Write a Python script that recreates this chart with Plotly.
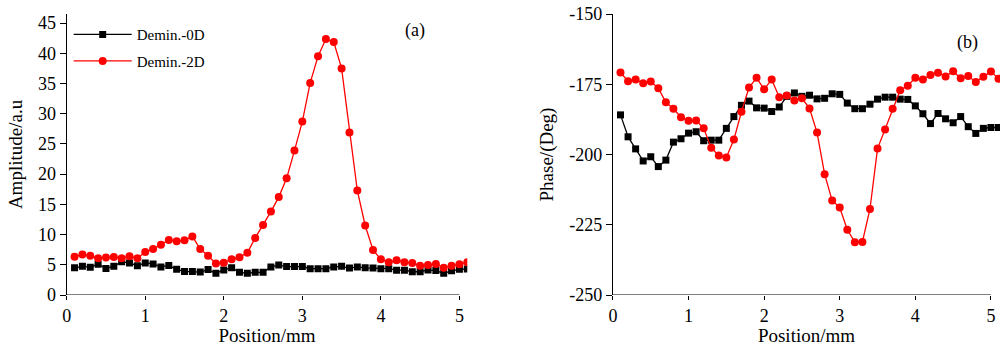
import plotly.graph_objects as go

position = [round(0.1 * i, 1) for i in range(1, 52)]  # 0.1 ... 5.1

amp_0d = [4.5, 4.75, 4.6, 5.1, 4.4, 4.75, 5.5, 5.3, 4.85, 5.3,
          5.15, 4.65, 4.9, 4.25, 3.9, 3.9, 3.8, 4.2, 3.6, 4.15,
          4.5, 3.75, 3.6, 3.75, 3.75, 4.65, 4.95, 4.7, 4.7, 4.7,
          4.35, 4.35, 4.35, 4.65, 4.75, 4.45, 4.65, 4.5, 4.45, 4.35,
          4.35, 4.1, 4.1, 3.85, 3.85, 4.15, 4.05, 3.6, 4.0, 4.25, 4.3]
amp_2d = [6.35, 6.7, 6.5, 6.1, 6.2, 6.3, 6.1, 6.4, 6.1, 7.1,
          7.6, 8.3, 9.1, 8.9, 9.05, 9.7, 7.6, 6.5, 5.2, 5.35,
          5.9, 6.25, 7.0, 9.45, 11.6, 13.8, 16.2, 19.3, 23.9, 28.7,
          35.1, 39.5, 42.35, 41.85, 37.5, 26.9, 17.3, 11.5, 7.45, 5.9,
          5.4, 5.75, 5.4, 5.3, 4.85, 4.95, 5.15, 4.5, 4.85, 5.1, 5.4]

phase_0d = [-185.9, -193.7, -198.0, -202.3, -200.8, -204.3, -202.0, -195.6, -194.4, -192.4,
            -191.9, -195.1, -194.9, -194.9, -190.7, -186.5, -182.5, -181.0, -183.4, -183.5,
            -184.7, -183.1, -179.3, -178.1, -179.3, -178.9, -180.2, -180.0, -178.4, -178.6,
            -181.7, -183.7, -183.7, -182.1, -180.3, -179.6, -179.6, -180.3, -180.4, -182.7,
            -185.5, -189.0, -185.4, -187.3, -188.7, -186.5, -190.1, -192.5, -190.7, -190.4, -190.4]
phase_2d = [-170.8, -173.9, -173.3, -174.6, -174.0, -176.4, -181.4, -183.7, -186.7, -188.0,
            -187.9, -190.7, -197.6, -200.4, -201.1, -194.7, -184.8, -176.2, -172.7, -176.8,
            -173.3, -179.6, -179.0, -180.8, -180.0, -183.6, -192.2, -207.0, -216.4, -218.9,
            -226.8, -231.2, -231.1, -219.4, -197.9, -191.1, -183.7, -177.1, -175.5, -172.7,
            -173.3, -171.7, -170.9, -172.2, -170.4, -172.9, -172.1, -174.2, -172.3, -170.5, -173.0]

x_ticks = [0, 1, 2, 3, 4, 5]
amp_ticks = [0, 5, 10, 15, 20, 25, 30, 35, 40, 45]
phase_ticks = [-250, -225, -200, -175, -150]
phase_ticktext = ["-250", "-225", "-200", "-175", "-150"]

FONT = "Liberation Serif"
BLACK = "#000000"
RED = "#ff0000"

fig = go.Figure()

fig.add_trace(go.Scatter(x=position, y=amp_0d, name="Demin.-0D", mode="lines+markers",
                         line=dict(color=BLACK, width=1.3),
                         marker=dict(symbol="square", size=7, color=BLACK),
                         xaxis="x", yaxis="y", legendgroup="a"))
fig.add_trace(go.Scatter(x=position, y=amp_2d, name="Demin.-2D", mode="lines+markers",
                         line=dict(color=RED, width=1.3),
                         marker=dict(symbol="circle", size=8, color=RED),
                         xaxis="x", yaxis="y", legendgroup="b"))
fig.add_trace(go.Scatter(x=position, y=phase_0d, name="Demin.-0D", mode="lines+markers",
                         line=dict(color=BLACK, width=1.3),
                         marker=dict(symbol="square", size=7, color=BLACK),
                         xaxis="x2", yaxis="y2", showlegend=False, legendgroup="a"))
fig.add_trace(go.Scatter(x=position, y=phase_2d, name="Demin.-2D", mode="lines+markers",
                         line=dict(color=RED, width=1.3),
                         marker=dict(symbol="circle", size=8, color=RED),
                         xaxis="x2", yaxis="y2", showlegend=False, legendgroup="b"))

axis_common = dict(ticks="outside", tickwidth=1.2, tickcolor=BLACK,
                   showgrid=False, zeroline=False,
                   tickfont=dict(family=FONT, size=18, color=BLACK),
                   title_font=dict(family=FONT, size=19, color=BLACK))

fig.update_layout(
    width=1000, height=346,
    margin=dict(l=0, r=0, t=14, b=51),
    paper_bgcolor="white", plot_bgcolor="white",
    showlegend=True,
    legend=dict(x=0.064, y=0.985, xref="paper", yref="paper", xanchor="left", yanchor="top",
                font=dict(family=FONT, size=15, color=BLACK),
                bgcolor="rgba(0,0,0,0)", tracegroupgap=4, itemwidth=58),
    xaxis=dict(domain=[0.062, 0.4646], range=[0, 5.1], tickvals=x_ticks,
               showline=False, anchor="y", ticklen=4,
               title=dict(text="Position/mm", standoff=2), **axis_common),
    yaxis=dict(domain=[0, 1], range=[0, 46.5], tickvals=amp_ticks,
               showline=True, linecolor=BLACK, linewidth=1.2, anchor="x", ticklen=6,
               title=dict(text="Amplitude/a.u", standoff=10), **axis_common),
    xaxis2=dict(domain=[0.611, 1.0], range=[0, 5.12], tickvals=x_ticks,
                showline=False, anchor="y2", ticklen=4,
                title=dict(text="Position/mm", standoff=2), **axis_common),
    yaxis2=dict(domain=[0, 1], range=[-250, -150], tickvals=phase_ticks,
                ticktext=phase_ticktext,
                showline=True, linecolor=BLACK, linewidth=1.2, anchor="x2", ticklen=6,
                title=dict(text="Phase/(Deg)", standoff=10), **axis_common),
    shapes=[
        dict(type="line", xref="x", yref="y", x0=0, x1=5, y0=0, y1=0,
             line=dict(color=BLACK, width=1.2)),
        dict(type="line", xref="x2", yref="y2", x0=0, x1=5, y0=-250, y1=-250,
             line=dict(color=BLACK, width=1.2)),
    ],
    annotations=[
        dict(text="(a)", xref="paper", yref="paper", x=0.412, y=0.943,
             xanchor="center", yanchor="middle",
             showarrow=False, font=dict(family=FONT, size=18, color=BLACK)),
        dict(text="(b)", xref="paper", yref="paper", x=0.967, y=0.9,
             xanchor="center", yanchor="middle",
             showarrow=False, font=dict(family=FONT, size=18, color=BLACK)),
    ],
)

fig.write_html("out.html")
